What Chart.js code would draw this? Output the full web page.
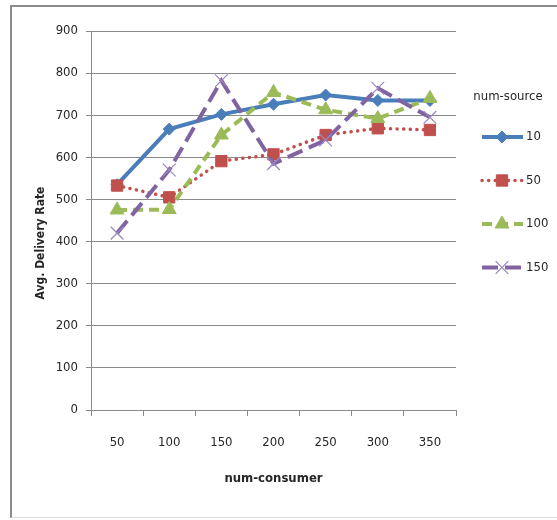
<!DOCTYPE html>
<html>
<head>
<meta charset="utf-8">
<script src="https://cdn.jsdelivr.net/npm/chart.js@4/dist/chart.umd.min.js"></script>
<style>
  html, body { margin: 0; padding: 0; background: #fff; }
  #wrap { position: relative; width: 557px; height: 520px; overflow: hidden; }
  #frame { position: absolute; left: 10px; top: 5px; width: 580px; height: 510px;
           border-left: 2px solid #8c8c8c; border-top: 2px solid #8c8c8c; border-bottom: 1px solid #dcdcdc; }
  canvas { position: absolute; left: 0; top: 0; }
</style>
</head>
<body>
<div id="wrap">
  <div id="frame"></div>
  <canvas id="chart" width="557" height="520"></canvas>
</div>
<script>
// --- data ---
const consumers = ['50', '100', '150', '200', '250', '300', '350'];
const src10  = [535, 667, 702, 726, 748, 735, 735];
const src50  = [533, 505, 591, 607, 653, 669, 665];
const src100 = [475, 476, 653, 754, 713, 692, 740];
const src150 = [420, 570, 782, 585, 641, 764, 695];
const seriesNames = ['10', '50', '100', '150'];

const FONT = "'DejaVu Sans Condensed', 'DejaVu Sans', sans-serif";
const gridColor = '#8a8a8a';
const textColor = '#262626';

// marker drawn with the dataset's own colours
function drawMarker(ctx, ds, x, y) {
  ctx.save();
  ctx.setLineDash([]);
  ctx.fillStyle = ds.pointBackgroundColor;
  ctx.strokeStyle = ds.pointBorderColor;
  ctx.lineWidth = ds.pointBorderWidth;
  Chart.helpers.drawPoint(ctx, {
    pointStyle: ds.pointStyle,
    radius: ds.pointRadius,
    borderWidth: ds.pointBorderWidth
  }, x, y);
  ctx.restore();
}

// legend on the right: line + marker like the spreadsheet one
const sideLegend = {
  id: 'sideLegend',
  afterDraw(chart) {
    const ctx = chart.ctx;
    ctx.save();
    ctx.fillStyle = textColor;
    ctx.font = '13px ' + FONT;
    ctx.textAlign = 'center';
    ctx.textBaseline = 'middle';
    ctx.fillText('num-source', 508, 97);
    ctx.textAlign = 'left';
    chart.data.datasets.forEach((ds, i) => {
      const y = 137 + i * 43.5;
      ctx.save();
      ctx.strokeStyle = ds.borderColor;
      ctx.lineWidth = ds.borderWidth;
      ctx.lineCap = ds.borderCapStyle || 'butt';
      ctx.setLineDash(ds.borderDash || []);
      ctx.beginPath();
      ctx.moveTo(482, y);
      ctx.lineTo(523, y);
      ctx.stroke();
      ctx.restore();
      drawMarker(ctx, ds, 502, y);
      ctx.fillStyle = textColor;
      ctx.fillText(ds.label, 526, y);
    });
    ctx.restore();
  }
};

// rotated y title
const yTitle = {
  id: 'yTitle',
  afterDraw(chart) {
    const ctx = chart.ctx;
    ctx.save();
    ctx.translate(41, 243);
    ctx.rotate(-Math.PI / 2);
    ctx.font = 'bold 12px ' + FONT;
    ctx.fillStyle = textColor;
    ctx.textAlign = 'center';
    ctx.textBaseline = 'middle';
    ctx.fillText('Avg. Delivery Rate', 0, 0);
    ctx.restore();
  }
};

function makeSet(label, data, color, opts) {
  return Object.assign({
    label: label,
    data: data,
    borderColor: color,
    backgroundColor: color,
    pointBackgroundColor: color,
    pointBorderColor: color,
    borderWidth: 4,
    pointBorderWidth: 1,
    tension: 0,
    fill: false
  }, opts);
}

const datasets = [
  makeSet(seriesNames[0], src10, '#4a7ebb', { pointStyle: 'rectRot', pointRadius: 6, order: 4 }),
  makeSet(seriesNames[1], src50, '#c0504d', { pointStyle: 'rect', pointRadius: 8, borderWidth: 3.5,
    borderDash: [0.1, 6.5], borderCapStyle: 'round', order: 3 }),
  makeSet(seriesNames[2], src100, '#9bbb59', { pointStyle: 'triangle', pointRadius: 8, borderDash: [10, 6], order: 2 }),
  makeSet(seriesNames[3], src150, '#8064a2', { pointStyle: 'crossRot', pointRadius: 9, pointBorderWidth: 1.2,
    pointBorderColor: '#9a86bf', borderDash: [16, 7], order: 1 })
];

new Chart(document.getElementById('chart'), {
  type: 'line',
  data: { labels: consumers, datasets: datasets },
  options: {
    responsive: false,
    animation: false,
    devicePixelRatio: 1,
    layout: { padding: { left: 0, right: 101, top: 31, bottom: 10 } },
    plugins: {
      legend: { display: false },
      tooltip: { enabled: false }
    },
    scales: {
      x: {
        offset: true,
        grid: { display: true, drawOnChartArea: false, offset: true, tickLength: 6, color: gridColor },
        border: { color: gridColor, width: 1 },
        ticks: { color: textColor, font: { family: FONT, size: 13 }, padding: 19, maxRotation: 0 },
        title: { display: true, text: 'num-consumer', color: textColor,
                 font: { family: FONT, size: 13, weight: 'bold' }, padding: { top: 4, bottom: 24 } },
        afterFit(scale) { scale.height = 100; }
      },
      y: {
        min: 0, max: 900,
        grid: { color: gridColor, tickLength: 5 },
        border: { color: gridColor, width: 1 },
        ticks: { stepSize: 100, color: textColor, font: { family: FONT, size: 13 }, padding: 8 },
        afterFit(scale) { scale.width = 91; }
      }
    }
  },
  plugins: [sideLegend, yTitle]
});
</script>
</body>
</html>
